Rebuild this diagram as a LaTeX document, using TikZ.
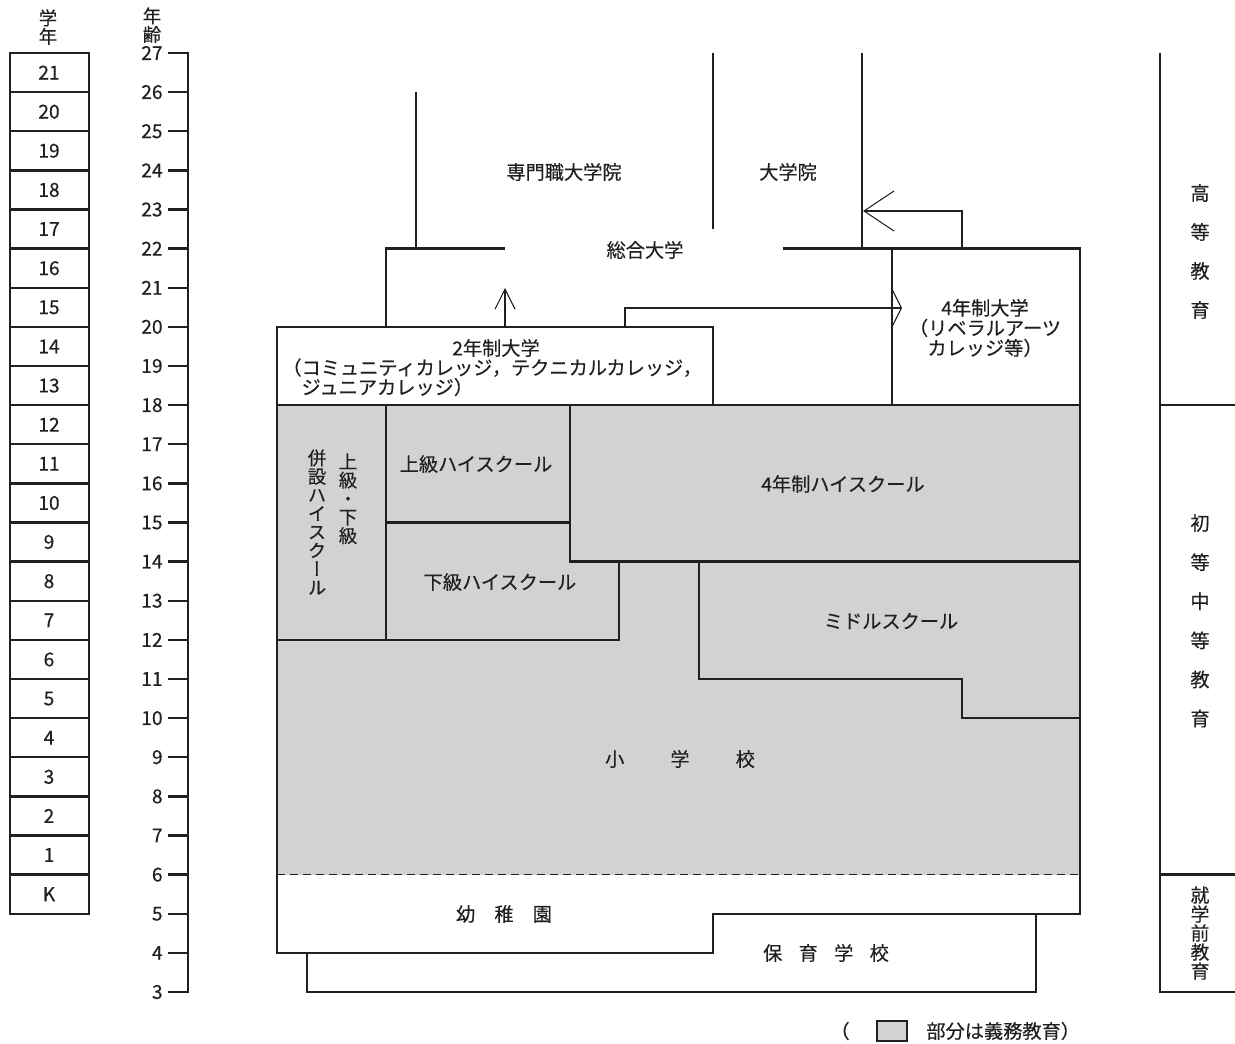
\documentclass[tikz,border=0pt]{standalone}
\usepackage{fontspec}
\setmainfont{Noto Sans CJK JP}[FakeBold=0.35]
\newfontfamily\tatefont[RawFeature=+vert, FakeBold=0.35]{Noto Sans CJK JP}
\usepackage{tikz}
\usetikzlibrary{positioning, arrows.meta, calc}
\definecolor{ink}{HTML}{231F20}
\definecolor{gimu}{HTML}{D1D2D4}
\newcommand{\jfont}{\fontsize{9.6pt}{9.8pt}\selectfont}

\begin{document}
\begin{tikzpicture}[x=0.5pt, y=-0.5pt, declare function={ay(\a)=53+(27-\a)*39.125;},
  wall/.style={draw=ink, line width=1.2pt},
  thin/.style={draw=ink, line width=0.55pt},
  lbl/.style={font=\jfont, inner sep=0pt, text=ink},
  tate/.style={font={\tatefont\fontsize{9.2pt}{9.25pt}\selectfont}, inner sep=0pt, text=ink, align=center, anchor=north}]
\useasboundingbox (0,0) rectangle (1235,1043);

% grade column
\node[tate] (gakunen) at (48,9) {学\\年};
\foreach \g [count=\i from 0] in {21,20,19,18,17,16,15,14,13,12,11,10,9,8,7,6,5,4,3,2,1,K} {
  \draw[wall] (10,{ay(27-\i)}) rectangle (89,{ay(26-\i)});
  \node[lbl] (grade\i) at (49,{ay(26.5-\i)}) {\g};
}

% age axis
\node[tate] (nenrei) at (152,7) {年\\齢};
\draw[wall] (168,{ay(27)}) -| (188,{ay(3)}) -- (168,{ay(3)});
\foreach \a in {4,...,26} \draw[wall] (168,{ay(\a)}) -- (188,{ay(\a)});
\foreach \a in {3,...,27} \node[lbl, anchor=east] (age\a) at (163,{ay(\a)}) {\a};

% compulsory part
\fill[gimu] (277,{ay(18)}) rectangle (1080,{ay(6)});

% higher education
\draw[wall] (277,{ay(18)}) rectangle (713,{ay(20)});
\draw[wall] (386,{ay(20)}) |- (505,{ay(22)});
\draw[wall] (416,{ay(22)}) -- (416,{ay(26)});
\draw[wall] (713,{ay(27)}) -- (713,{ay(22.5)});
\draw[wall] (862,{ay(22)}) -- (862,{ay(27)});
\draw[wall] (783,{ay(22)}) -| (1080,{ay(18)});
\draw[wall] (892,{ay(22)}) -- (892,{ay(18)});

% schools
\draw[wall] (277,{ay(18)}) -- (1080,{ay(18)}) -- (1080,{ay(5)}) -| (713,{ay(4)}) -| (277,{ay(18)});
\draw[wall] (386,{ay(18)}) -- (386,{ay(12)});
\draw[wall] (277,{ay(12)}) -| (619,{ay(14)});
\draw[wall] (386,{ay(15)}) -- (570,{ay(15)});
\draw[wall] (570,{ay(18)}) |- (1080,{ay(14)});
\draw[wall] (699,{ay(14)}) |- (962,{ay(11)}) |- (1080,{ay(10)});
\draw[thin, dash pattern=on 4pt off 2.5pt] (277,{ay(6)}) -- (1080,{ay(6)});
\draw[wall] (307,{ay(4)}) |- (1036,{ay(3)}) -- (1036,{ay(5)});

% transfers
\coordinate (tandaiTop) at (505,{ay(20)});
\coordinate (sougouIn) at (505,288);
\coordinate (tandaiOut) at (625,{ay(20)});
\coordinate (yonenIn) at (902,308);
\coordinate (yonenOut) at (962,{ay(22)});
\coordinate (inIn) at (863,211);
\draw[thin, -{Straight Barb[length=10pt, width=10pt]}] (tandaiTop) -- (sougouIn);
\draw[thin, -{Straight Barb[length=4.5pt, width=18pt]}] (tandaiOut) |- (yonenIn);
\draw[thin, -{Straight Barb[length=15pt, width=20pt]}] (yonenOut) |- (inIn);

% labels
\node[lbl] (senmon) at (564,172) {専門職大学院};
\node[lbl] (daigakuin) at (788,172) {大学院};
\node[lbl] (sougou) at (645,250) {総合大学};
\node[lbl] (tandai) at (496,348) {2年制大学};
\node[lbl, align=left, anchor=north west] (tandaiSub) at (282,358) {（コミュニティカレッジ，テクニカルカレッジ，\\　ジュニアカレッジ）};
\node[lbl, align=center, font={\fontsize{9.6pt}{10pt}\selectfont}] (yonen) at (985,328) {4年制大学\\（リベラルアーツ\\カレッジ等）};
\node[lbl] (jokyu) at (476,464) {上級ハイスクール};
\node[lbl] (kakyu) at (500,582) {下級ハイスクール};
\node[lbl] (yonenHigh) at (843,484) {4年制ハイスクール};
\node[lbl] (middle) at (891,621) {ミドルスクール};
\node[lbl] (shogakko) at (680,759) {小\hspace{2.4em}学\hspace{2.4em}校};
\node[lbl] (yochien) at (504,914) {幼\hspace{1em}稚\hspace{1em}園};
\node[lbl] (hoiku) at (826,953) {保\hspace{0.85em}育\hspace{0.85em}学\hspace{0.85em}校};
\node[tate] (heisetsu) at (317,449) {併\\設\\ハ\\イ\\ス\\ク\\ー\\ル};
\node[tate] (jokakyu) at (348,453) {上\\級\\・\\下\\級};

% stages
\draw[wall] (1160,{ay(27)}) |- (1235,{ay(3)});
\draw[wall] (1160,{ay(18)}) -- (1235,{ay(18)});
\draw[wall] (1160,{ay(6)}) -- (1235,{ay(6)});
\foreach \c [count=\i] in {高,等,教,育} \node[lbl] (koto\i) at (1200,{154+39*\i}) {\c};
\foreach \c [count=\i] in {初,等,中,等,教,育} \node[lbl] (shoto\i) at (1200,{484+39.1*\i}) {\c};
\node[tate, font={\tatefont\fontsize{9.4pt}{9.5pt}\selectfont}] (shugaku) at (1200,886) {就\\学\\前\\教\\育};

% legend
\node[lbl] (legOpen) at (840,1031) {（};
\node[thin, fill=gimu, minimum width=15pt, minimum height=10pt, inner sep=0pt] (legBox) at (892,1031) {};
\node[lbl, anchor=west] (legText) at (926,1031) {部分は義務教育）};
\end{tikzpicture}
\end{document}
